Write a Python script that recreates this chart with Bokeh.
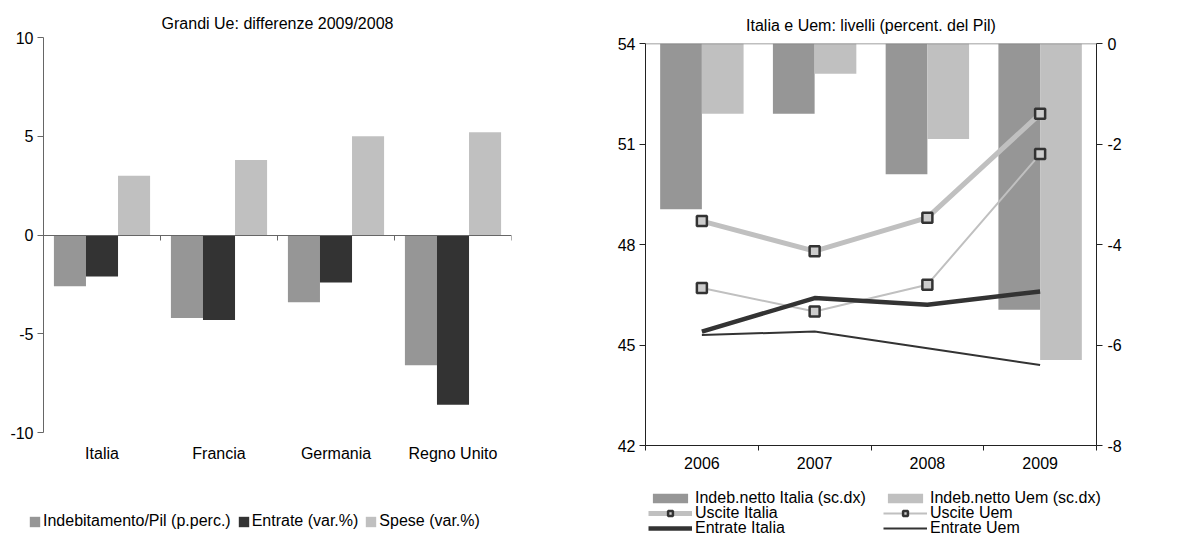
from bokeh.plotting import figure
from bokeh.models import (Range1d, LinearAxis, FixedTicker, Legend, LegendItem,
                          Span, ColumnDataSource)
from bokeh.layouts import row, column
from bokeh.transform import dodge
from bokeh.embed import file_html
from bokeh.resources import INLINE

# ---------------- data ----------------
countries = ["Italia", "Francia", "Germania", "Regno Unito"]
indebitamento = [-2.6, -4.2, -3.4, -6.6]
entrate_var = [-2.1, -4.3, -2.4, -8.6]
spese_var = [3.0, 3.8, 5.0, 5.2]

years = ["2006", "2007", "2008", "2009"]
indeb_italia = [-3.3, -1.4, -2.6, -5.3]
indeb_uem = [-1.4, -0.6, -1.9, -6.3]
uscite_italia = [48.7, 47.8, 48.8, 51.9]
uscite_uem = [46.7, 46.0, 46.8, 50.7]
entrate_italia = [45.4, 46.4, 46.2, 46.6]
entrate_uem = [45.3, 45.4, 44.9, 44.4]

left_ticks = [-10, -5, 0, 5, 10]
right_left_ticks = [42, 45, 48, 51, 54]
right_right_ticks = [-8, -6, -4, -2, 0]

FONT = "Liberation Sans"
FS = "16px"
C_MID = "#969696"
C_DARK = "#333333"
C_LIGHT = "#c0c0c0"


def style_axis(ax, color):
    ax.axis_line_color = color
    ax.major_tick_line_color = color
    ax.minor_tick_line_color = color
    ax.major_label_text_font = FONT
    ax.major_label_text_font_size = FS
    ax.major_label_text_color = "black"


def hyphen_labels(ticks):
    return {t: str(t) for t in ticks}


def base_fig(**kw):
    f = figure(output_backend="svg", toolbar_location=None,
               x_axis_type=None, y_axis_type=None, **kw)
    f.outline_line_color = None
    f.xgrid.visible = False
    f.ygrid.visible = False
    f.frame_align = False
    return f


def style_title(f, text, standoff):
    f.title.text = text
    f.title.align = "center"
    f.title.text_font = FONT
    f.title.text_font_size = FS
    f.title.text_font_style = "normal"
    f.title.text_color = "black"
    f.title.standoff = standoff


def legend_fig(width, height):
    return base_fig(width=width, height=height, x_range=Range1d(0, 1), y_range=Range1d(0, 1),
                    min_border_left=0, min_border_right=0, min_border_top=0, min_border_bottom=0)


def style_legend(leg):
    leg.padding = 0
    leg.margin = 0
    leg.border_line_color = None
    leg.background_fill_alpha = 0
    leg.label_text_font = FONT
    leg.label_text_font_size = FS
    leg.label_text_color = "black"


# ---------------- left chart ----------------
src1 = ColumnDataSource(dict(x=[i + 0.5 for i in range(len(countries))],
                             indeb=indebitamento, entr=entrate_var, spese=spese_var))

p1 = base_fig(width=600, height=470,
              x_range=Range1d(0, len(countries)), y_range=Range1d(-10, 10),
              min_border_left=43, min_border_right=89, min_border_top=37, min_border_bottom=38)
style_title(p1, "Grandi Ue: differenze 2009/2008", 11)

W1 = 0.274
p1.vbar(x=dodge("x", -W1, range=p1.x_range), top="indeb", width=W1, source=src1,
        fill_color=C_MID, line_color=None)
p1.vbar(x="x", top="entr", width=W1, source=src1, fill_color=C_DARK, line_color=None)
p1.vbar(x=dodge("x", W1, range=p1.x_range), top="spese", width=W1, source=src1,
        fill_color=C_LIGHT, line_color=None)

ya1 = LinearAxis(ticker=FixedTicker(ticks=left_ticks, minor_ticks=[]))
style_axis(ya1, "#666666")
ya1.major_tick_out = 6
ya1.major_tick_in = 0
ya1.major_label_standoff = 4
ya1.major_label_overrides = hyphen_labels(left_ticks)
p1.add_layout(ya1, "left")

xa1 = LinearAxis(ticker=FixedTicker(ticks=[i + 0.5 for i in range(len(countries))], minor_ticks=[]))
style_axis(xa1, None)
xa1.major_tick_out = 0
xa1.major_tick_in = 0
xa1.major_label_standoff = 12
xa1.major_label_overrides = {i + 0.5: c for i, c in enumerate(countries)}
p1.add_layout(xa1, "below")

za1 = LinearAxis(fixed_location=0,
                 ticker=FixedTicker(ticks=[], minor_ticks=list(range(len(countries) + 1))))
style_axis(za1, "#666666")
za1.minor_tick_out = 5
za1.minor_tick_in = 0
p1.add_layout(za1, "below")

# legend panel (proxy renderers placed outside the visible range)
lf1 = legend_fig(600, 73)
e1 = ColumnDataSource(dict(x=[-10], y=[-10]))
q1 = lf1.vbar(x="x", top="y", width=0.1, source=e1, fill_color=C_MID, line_color=None)
q2 = lf1.vbar(x="x", top="y", width=0.1, source=e1, fill_color=C_DARK, line_color=None)
q3 = lf1.vbar(x="x", top="y", width=0.1, source=e1, fill_color=C_LIGHT, line_color=None)
leg1 = Legend(items=[LegendItem(label="Indebitamento/Pil (p.perc.)", renderers=[q1]),
                     LegendItem(label="Entrate (var.%)", renderers=[q2]),
                     LegendItem(label="Spese (var.%)", renderers=[q3])],
              orientation="horizontal", location=(28, 13))
leg1.glyph_width = 13
leg1.glyph_height = 13
leg1.label_standoff = 2
leg1.spacing = 6
style_legend(leg1)
lf1.add_layout(leg1, "center")

# ---------------- right chart ----------------
src2 = ColumnDataSource(dict(x=[i + 0.5 for i in range(len(years))],
                             bi=indeb_italia, bu=indeb_uem,
                             ui=uscite_italia, uu=uscite_uem,
                             ei=entrate_italia, eu=entrate_uem))

p2 = base_fig(width=576, height=475,
              x_range=Range1d(0, len(years)), y_range=Range1d(42, 54),
              min_border_left=45, min_border_right=80, min_border_top=43, min_border_bottom=30)
p2.extra_y_ranges = {"right": Range1d(-8, 0)}
style_title(p2, "Italia e Uem: livelli (percent. del Pil)", 19)

W2 = 0.37
p2.vbar(x=dodge("x", -0.185, range=p2.x_range), top=0, bottom="bi", width=W2,
        source=src2, y_range_name="right", fill_color=C_MID, line_color=None)
p2.vbar(x=dodge("x", 0.185, range=p2.x_range), top=0, bottom="bu", width=W2,
        source=src2, y_range_name="right", fill_color=C_LIGHT, line_color=None)

p2.add_layout(Span(location=54, dimension="width", line_color="#808080", line_width=1.5))

p2.line("x", "ui", source=src2, line_color=C_LIGHT, line_width=5)
p2.line("x", "uu", source=src2, line_color=C_LIGHT, line_width=2)
p2.line("x", "ei", source=src2, line_color=C_DARK, line_width=4.5)
p2.line("x", "eu", source=src2, line_color=C_DARK, line_width=2)
MK = dict(marker="square", size=10, fill_color="#cccccc", line_color=C_DARK, line_width=2.5)
p2.scatter("x", "ui", source=src2, **MK)
p2.scatter("x", "uu", source=src2, **MK)

ya2 = LinearAxis(ticker=FixedTicker(ticks=right_left_ticks, minor_ticks=[]))
style_axis(ya2, "#222222")
ya2.major_tick_out = 6
ya2.major_tick_in = 0
ya2.major_label_standoff = 4
p2.add_layout(ya2, "left")

yr2 = LinearAxis(y_range_name="right", ticker=FixedTicker(ticks=right_right_ticks, minor_ticks=[]))
style_axis(yr2, "#222222")
yr2.major_tick_out = 6
yr2.major_tick_in = 0
yr2.major_label_standoff = 5
yr2.major_label_overrides = hyphen_labels(right_right_ticks)
p2.add_layout(yr2, "right")

xa2 = LinearAxis(ticker=FixedTicker(ticks=[i + 0.5 for i in range(len(years))],
                                    minor_ticks=list(range(len(years) + 1))))
style_axis(xa2, "#222222")
xa2.major_tick_line_color = None
xa2.major_tick_out = 0
xa2.major_tick_in = 0
xa2.minor_tick_out = 5
xa2.minor_tick_in = 0
xa2.major_label_standoff = 6
xa2.major_label_overrides = {i + 0.5: y for i, y in enumerate(years)}
p2.add_layout(xa2, "below")

lf2 = legend_fig(576, 68)
e2 = ColumnDataSource(dict(x=[-10], y=[-10]))
s1 = lf2.vbar(x="x", top="y", width=0.1, source=e2, fill_color=C_MID, line_color=None)
s2 = lf2.vbar(x="x", top="y", width=0.1, source=e2, fill_color=C_LIGHT, line_color=None)
s3 = lf2.line("x", "y", source=e2, line_color=C_LIGHT, line_width=5)
s3m = lf2.scatter("x", "y", source=e2, **MK)
s4 = lf2.line("x", "y", source=e2, line_color=C_LIGHT, line_width=2)
s4m = lf2.scatter("x", "y", source=e2, **MK)
s5 = lf2.line("x", "y", source=e2, line_color=C_DARK, line_width=4.5)
s6 = lf2.line("x", "y", source=e2, line_color=C_DARK, line_width=2)

legend_rows = [
    ([("Indeb.netto Italia (sc.dx)", [s1]), ("Indeb.netto Uem (sc.dx)", [s2])], 36),
    ([("Uscite Italia", [s3, s3m]), ("Uscite Uem", [s4, s4m])], 21),
    ([("Entrate Italia", [s5]), ("Entrate Uem", [s6])], 6),
]
for items, yoff in legend_rows:
    leg = Legend(items=[LegendItem(label=lab, renderers=rs) for lab, rs in items],
                 orientation="horizontal", location=(48, yoff))
    leg.glyph_width = 44
    leg.glyph_height = 12
    leg.label_standoff = 3
    leg.label_width = 188
    leg.label_height = 12
    leg.spacing = 0
    style_legend(leg)
    lf2.add_layout(leg, "center")

layout = row(column(p1, lf1), column(p2, lf2))
open("out.html", "w").write(file_html(layout, INLINE))
